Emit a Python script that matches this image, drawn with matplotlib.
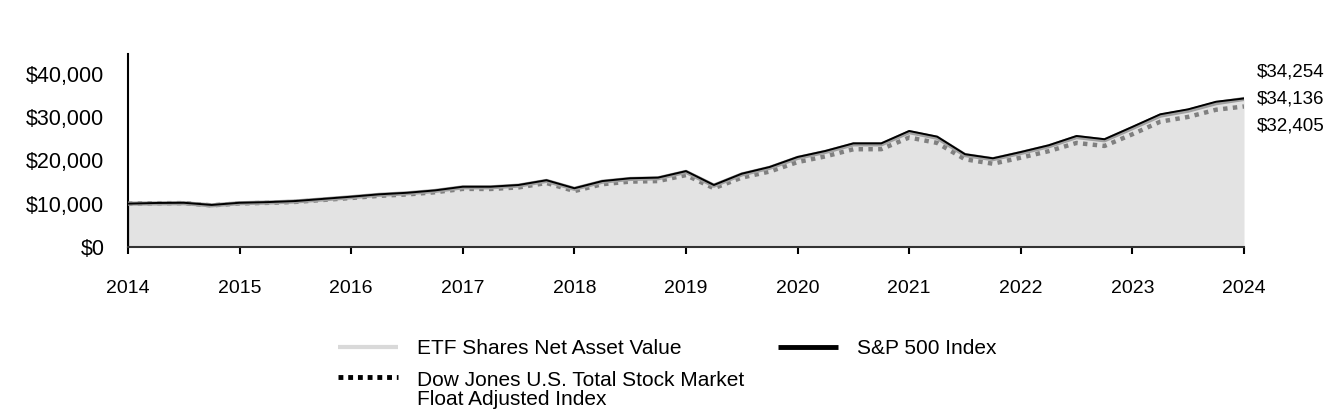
import matplotlib
matplotlib.use("Agg")
import matplotlib.pyplot as plt
from matplotlib.lines import Line2D
import numpy as np

plt.rcParams['font.family'] = ['Liberation Sans', 'DejaVu Sans']

# quarterly points, 2014 through 2024
quarters = np.arange(41) / 4 + 2014

sp500 = [10000, 10150, 10200, 9700, 10200, 10350, 10600, 11100, 11600, 12150,
         12500, 13050, 13900, 13900, 14300, 15400, 13550, 15200, 15850, 16000,
         17500, 14300, 16900, 18450, 20750, 22150, 23900, 23900, 26750, 25450,
         21400, 20450, 21900, 23450, 25600, 24850, 27700, 30600, 31750, 33500,
         34254]
etf_nav = [10000, 10050, 10100, 9600, 10100, 10250, 10500, 10980, 11480, 12030,
           12380, 12920, 13760, 13760, 14150, 15240, 13410, 15050, 15690, 15840,
           17320, 14150, 16730, 18260, 20540, 21930, 23660, 23660, 26480, 25190,
           21190, 20250, 21680, 23220, 25340, 24600, 27420, 30290, 31430, 33160,
           34136]
dow_jones = [10000, 10100, 10120, 9600, 10050, 10180, 10400, 10850, 11300, 11800,
             12120, 12620, 13400, 13380, 13740, 14760, 12900, 14480, 15080, 15200,
             16580, 13540, 16000, 17400, 19580, 20900, 22540, 22560, 25250, 24000,
             20230, 19200, 20600, 22100, 24000, 23300, 26000, 28900, 30000, 31650,
             32405]

end_labels = ["$34,254", "$34,136", "$32,405"]
years = list(range(2014, 2025))
yticks = [0, 10000, 20000, 30000, 40000]

W, H = 1344, 420
fig = plt.figure(figsize=(13.44, 4.2), dpi=100)
ax = fig.add_axes([0.0952, 0.4119, 0.8304, 0.4595])

ax.fill_between(quarters, etf_nav, 0, color='#e3e3e3', lw=0, zorder=1)
ax.plot(quarters, dow_jones, color='#808080', lw=3.2, linestyle=(0, (1, 1.2)),
        solid_capstyle='butt', zorder=2)
ax.plot(quarters, etf_nav, color='#a0a0a0', lw=3, zorder=3)
ax.plot(quarters, sp500, color='black', lw=1.4, zorder=4)
# thin left edge of the area
ax.plot([quarters[0], quarters[0]], [0, etf_nav[0]], color='#909090', lw=1, zorder=2)

ax.set_xlim(2014, 2024)
ax.set_ylim(0, 44500)
ax.set_xticks(years)
ax.set_xticklabels([str(y) for y in years], fontsize=14)
ax.set_yticks(yticks)
ax.set_yticklabels(["${:,}".format(v) for v in yticks], fontsize=15.5)
ax.tick_params(axis='x', direction='out', length=5, width=1.5, pad=18.5)
ax.tick_params(axis='y', length=0, pad=17)

for s in ['top', 'right']:
    ax.spines[s].set_visible(False)
ax.spines['left'].set_linewidth(1.5)
ax.spines['bottom'].set_linewidth(1.5)
ax.spines['bottom'].set_color('#333333')

for i, t in enumerate(end_labels):
    fig.text(1257 / W, 1 - (72 + 27 * i) / H, t, fontsize=13.5,
             ha='left', va='center')

# legend, laid out by hand
legend_items = [
    ("ETF Shares Net Asset Value", dict(color='#d9d9d9', lw=3), 338, 347, 349),
    ("S&P 500 Index", dict(color='black', lw=3.5), 778, 347, 349),
    ("Dow Jones U.S. Total Stock Market\nFloat Adjusted Index",
     dict(color='black', lw=3.5, linestyle=(0, (1, 1))), 338, 377, 390),
]
for label, style, x0, yl, yt in legend_items:
    fig.add_artist(Line2D([x0 / W, (x0 + 60) / W], [1 - yl / H] * 2,
                          transform=fig.transFigure, solid_capstyle='butt', **style))
    fig.text((x0 + 79) / W, 1 - yt / H, label, fontsize=15, ha='left',
             va='center', linespacing=1.0)

fig.savefig("out.png", dpi=100)
